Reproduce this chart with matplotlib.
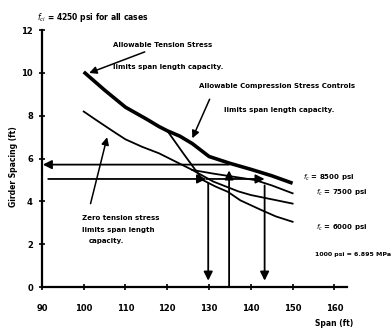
import matplotlib
matplotlib.use('Agg')
import matplotlib.pyplot as plt

# curves (span in ft, girder spacing in ft)
span_8500 = [100, 105, 110, 115, 118, 120, 123, 126, 130, 135, 140, 145, 150]
spc_8500 = [10.05, 9.2, 8.4, 7.85, 7.5, 7.3, 7.05, 6.7, 6.1, 5.78, 5.5, 5.2, 4.85]

span_7500 = [126, 131, 136, 141, 145, 150]
spc_7500 = [5.47, 5.3, 5.15, 5.0, 4.75, 4.38]

span_zero = [100, 103, 107, 110, 114, 118, 122, 126, 131, 134, 137, 140, 145, 150]
spc_zero = [8.2, 7.8, 7.28, 6.9, 6.55, 6.25, 5.86, 5.47, 4.93, 4.7, 4.47, 4.3, 4.1, 3.9]

span_6000 = [120, 124, 128.5, 131.5, 134.5, 137.5, 142.5, 146, 150]
spc_6000 = [7.3, 6.2, 5.0, 4.7, 4.45, 4.05, 3.6, 3.3, 3.05]

x_ticks = [90, 100, 110, 120, 130, 140, 150, 160]
y_ticks = [0, 2, 4, 6, 8, 10, 12]

# design spans / spacings used by the arrows
spans_down = [129.8, 143.3]
span_up = 134.8
spacing_hi = 5.72
spacing_lo = 5.05

fig = plt.figure(figsize=(3.92, 3.35), dpi=100)
ax = fig.add_axes([0.107, 0.143, 0.778, 0.767])
ax.set_xlim(90, 163)
ax.set_ylim(0, 12)

ax.plot(span_8500, spc_8500, color='black', lw=2.6, solid_capstyle='butt')
ax.plot(span_7500, spc_7500, color='black', lw=1.3)
ax.plot(span_zero, spc_zero, color='black', lw=1.3)
ax.plot(span_6000, spc_6000, color='black', lw=1.3)

for s in ['top', 'right']:
    ax.spines[s].set_visible(False)
for s in ['left', 'bottom']:
    ax.spines[s].set_linewidth(1.6)

ax.set_xticks(x_ticks)
ax.set_yticks(y_ticks)
ax.tick_params(axis='both', direction='inout', length=5, width=1.2)
ax.tick_params(axis='x', pad=10)
ax.tick_params(axis='y', pad=4)
for lab in ax.get_xticklabels() + ax.get_yticklabels():
    lab.set_fontsize(6)
    lab.set_fontweight('bold')

ax.set_xlabel('Span (ft)', fontsize=5.5, fontweight='bold')
ax.xaxis.set_label_coords(0.957, -0.125)
ax.set_ylabel('Girder Spacing (ft)', fontsize=5.5, fontweight='bold')
ax.yaxis.set_label_coords(-0.078, 0.47)

head = dict(arrowstyle='-|>', color='black', lw=1.3, mutation_scale=13,
            shrinkA=0, shrinkB=0)

# horizontal arrows to the spacing axis
ax.annotate('', xy=(90.2, spacing_hi), xytext=(span_up, spacing_hi), arrowprops=head)
ax.annotate('', xy=(spans_down[0] - 0.5, spacing_lo), xytext=(91.5, spacing_lo), arrowprops=head)
ax.annotate('', xy=(spans_down[1], spacing_lo), xytext=(spans_down[0] - 0.5, spacing_lo),
            arrowprops=head)

# vertical arrows
ax.annotate('', xy=(spans_down[0], 0.3), xytext=(spans_down[0], 4.85), arrowprops=head)
ax.annotate('', xy=(spans_down[1], 0.3), xytext=(spans_down[1], 4.75), arrowprops=head)
ax.annotate('', xy=(span_up, 5.45), xytext=(span_up, 0), arrowprops=head)

txt = dict(fontsize=5, fontweight='bold', ha='left', va='center')
ax.annotate('Allowable Tension Stress', xy=(101.3, 10.0), xytext=(107, 11.3),
            arrowprops=dict(arrowstyle='-|>', color='black', lw=1.1, mutation_scale=11,
                            shrinkA=2, shrinkB=0), **txt)
ax.text(107, 10.3, 'limits span length capacity.', **txt)

ax.annotate('Allowable Compression Stress Controls', xy=(126.0, 6.95), xytext=(127.5, 9.4),
            arrowprops=dict(arrowstyle='-|>', color='black', lw=1.1, mutation_scale=11,
                            shrinkA=6, shrinkB=0, relpos=(0.1, 0)), **txt)
ax.text(133.5, 8.25, 'limits span length capacity.', **txt)

ax.annotate('Zero tension stress', xy=(105.6, 7.0), xytext=(99.5, 3.25),
            arrowprops=dict(arrowstyle='-|>', color='black', lw=1.1, mutation_scale=11,
                            shrinkA=6, shrinkB=0, relpos=(0.08, 1)), **txt)
ax.text(99.5, 2.68, 'limits span length', **txt)
ax.text(101.3, 2.15, 'capacity.', **txt)

ax.text(152.5, 5.1, r'$f_c$ = 8500 psi', **txt)
ax.text(155.5, 4.4, r'$f_c$ = 7500 psi', **txt)
ax.text(155.5, 2.75, r'$f_c$ = 6000 psi', **txt)
ax.text(155.3, 1.5, '1000 psi = 6.895 MPa', fontsize=4.5, fontweight='bold', ha='left',
        va='center', clip_on=False)

fig.text(0.094, 0.948, r"$f_{ci}$ = 4250 psi for all cases", fontsize=5.5,
         fontweight='bold', ha='left', va='center')

fig.savefig('out.png', dpi=100)
